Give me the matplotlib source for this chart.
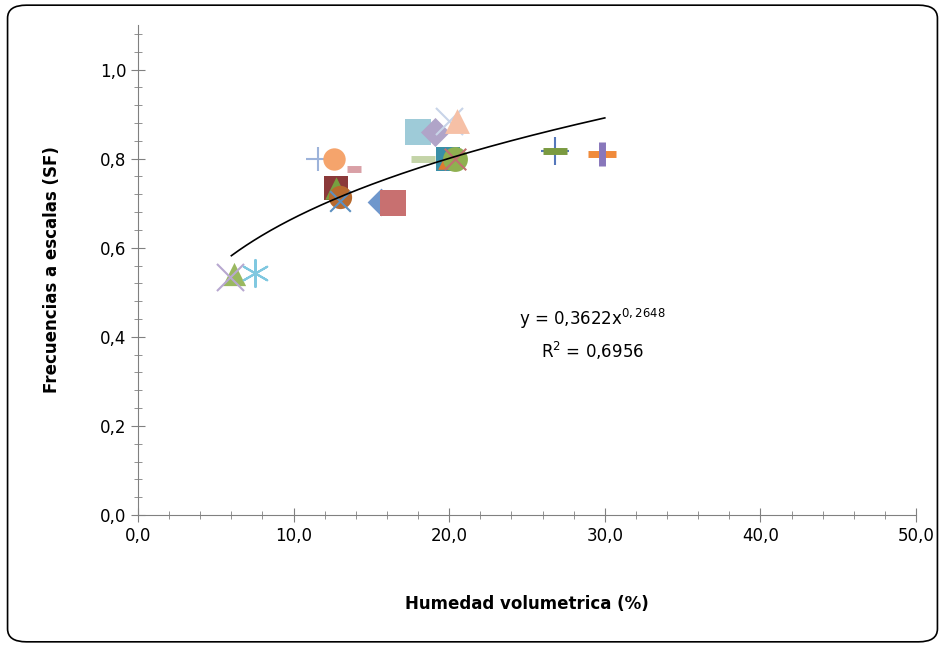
import matplotlib
matplotlib.use("Agg")
import matplotlib.pyplot as plt
import numpy as np
from matplotlib.patches import FancyBboxPatch
from matplotlib.ticker import MultipleLocator

xs = [11.6, 12.6, 13.9, 12.7, 12.7, 13.0, 13.0, 15.6, 16.4, 18.0, 19.1, 20.0, 20.5, 18.3, 19.9, 19.9, 20.4, 20.4, 26.8, 26.8, 29.8, 29.8, 6.2, 5.9, 7.5]
ys = [0.80, 0.80, 0.776, 0.733, 0.735, 0.713, 0.705, 0.702, 0.70, 0.86, 0.86, 0.885, 0.885, 0.80, 0.80, 0.80, 0.80, 0.80, 0.818, 0.818, 0.81, 0.81, 0.54, 0.535, 0.543]
markers = ['+', 'o', '_', 's', '^', 'o', 'x', 'D', 's', 's', 'D', 'x', '^', '_', 's', '^', 'o', 'x', '+', '_', '_', '|', '^', 'x', '*']
colors = ['#9db3da', '#f5a46c', '#d9a0a6', '#8b3a3a', '#77a040', '#b86a2e', '#5b8fc0', '#6f97cc', '#c87070', '#9ecbd8', '#b0a4c8', '#c8d4e8', '#f6c0a6', '#c4d4a8', '#3a8fa8', '#e07a30', '#8fb050', '#c07070', '#5577bb', '#7a9a40', '#f08a3a', '#8877bb', '#9ab860', '#b8a8d0', '#80c8e0']
sizes = [300, 260, 90, 300, 260, 280, 220, 200, 330, 340, 220, 380, 320, 300, 300, 220, 320, 240, 380, 300, 380, 300, 280, 380, 380]

a, b = 0.3622, 0.2648

fig = plt.figure(figsize=(9.45, 6.47), dpi=100)
fig.patches.append(FancyBboxPatch((0.008, 0.008), 0.984, 0.984, boxstyle="round,pad=0,rounding_size=0.02",
                                  transform=fig.transFigure, fill=False, ec='black', lw=1.2))
ax = fig.add_axes([138/945, 132/647, 778/945, 490/647])
for x, y, m, c, s in zip(xs, ys, markers, colors, sizes):
    if m == '*':
        m = (6, 2, 0)
    lw = 0
    if m in ['+', 'x'] or isinstance(m, tuple):
        lw = 1.5
    if m in ['_', '|']:
        lw = 5
    ax.scatter([x], [y], marker=m, c=c, s=s, linewidths=lw, zorder=3)
xc = np.linspace(6, 30, 200)
ax.plot(xc, a * xc ** b, color='black', lw=1.2, zorder=4)
ax.text(29.2, 0.405, "y = 0,3622x$^{0,2648}$\nR$^2$ = 0,6956", ha='center', va='center', fontsize=12, linespacing=1.5)
ax.set_xlim(0, 50)
ax.set_ylim(0, 1.1)
ax.xaxis.set_major_locator(MultipleLocator(10))
ax.xaxis.set_minor_locator(MultipleLocator(2))
ax.yaxis.set_minor_locator(MultipleLocator(0.04))
ax.xaxis.set_major_formatter(lambda v, p: f"{v:.1f}".replace('.', ','))
ax.yaxis.set_major_formatter(lambda v, p: f"{v:.1f}".replace('.', ','))
for s in ['top', 'right']:
    ax.spines[s].set_visible(False)
ax.spines['left'].set_color('#808080')
ax.spines['bottom'].set_color('#808080')
ax.tick_params(which='both', direction='inout', color='#808080', labelsize=12)
ax.tick_params(which='major', length=10)
ax.tick_params(which='minor', length=6)
ax.set_yticks([0, 0.2, 0.4, 0.6, 0.8, 1.0])
ax.set_xlabel("Humedad volumetrica (%)", fontsize=12, fontweight='bold', labelpad=36)
ax.set_ylabel("Frecuencias a escalas (SF)", fontsize=12, fontweight='bold', labelpad=28)
fig.savefig("out.png", dpi=100)
